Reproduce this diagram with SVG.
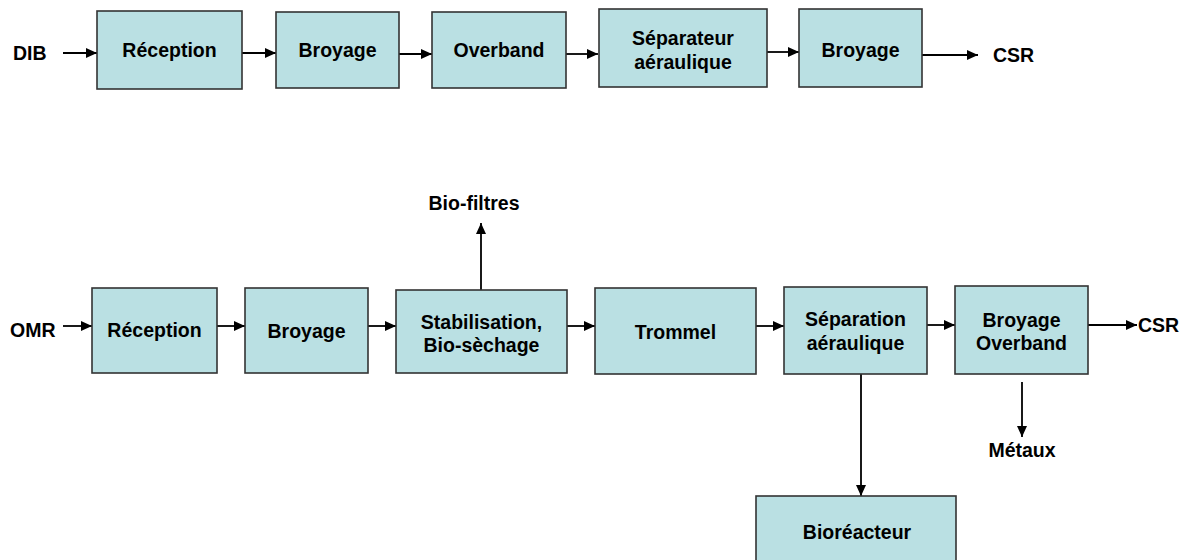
<svg xmlns="http://www.w3.org/2000/svg" width="1188" height="560" viewBox="0 0 1188 560">
<style>
.box{fill:#BAE0E3;stroke:#333;stroke-width:1.6}
.t{font-family:"Liberation Sans",Arial,sans-serif;font-weight:bold;font-size:19.5px;fill:#000;text-anchor:middle}
.l{font-family:"Liberation Sans",Arial,sans-serif;font-weight:bold;font-size:19.5px;fill:#000}
.c{stroke:#000;stroke-width:1.8;fill:none;marker-end:url(#ah)}
</style>
<defs>
<marker id="ah" markerUnits="userSpaceOnUse" markerWidth="12" markerHeight="11" refX="11" refY="5" orient="auto">
<path d="M0,0 L11,5 L0,10 z" fill="#000"/>
</marker>
</defs>
<rect width="1188" height="560" fill="#fff"/>
<g id="connectors">
<line class="c" x1="63" y1="53" x2="97" y2="53"/>
<line class="c" x1="242" y1="53" x2="276" y2="53"/>
<line class="c" x1="399" y1="54" x2="432" y2="54"/>
<line class="c" x1="566" y1="54" x2="598" y2="54"/>
<line class="c" x1="767" y1="52" x2="799" y2="52"/>
<line class="c" x1="922" y1="55" x2="978" y2="55"/>
<line class="c" x1="63" y1="326" x2="92" y2="326"/>
<line class="c" x1="217" y1="326" x2="245" y2="326"/>
<line class="c" x1="368" y1="326" x2="396" y2="326"/>
<line class="c" x1="481" y1="290" x2="481" y2="223"/>
<line class="c" x1="567" y1="326" x2="595" y2="326"/>
<line class="c" x1="756" y1="326" x2="784" y2="326"/>
<line class="c" x1="927" y1="325" x2="955" y2="325"/>
<line class="c" x1="1088" y1="325" x2="1137" y2="325"/>
<line class="c" x1="861" y1="374" x2="861" y2="496"/>
<line class="c" x1="1022" y1="382" x2="1022" y2="437"/>
</g>
<g id="labels">
<text class="l" x="13" y="60">DIB</text>
<text class="l" x="993" y="62">CSR</text>
<text class="l" x="10" y="337">OMR</text>
<text class="t" x="474" y="210">Bio-filtres</text>
<text class="l" x="1138" y="332">CSR</text>
<text class="t" x="1022" y="457">Métaux</text>
</g>
<g id="n1"><rect class="box" x="97" y="11" width="145" height="78"/><text class="t" x="169.5" y="57">Réception</text></g>
<g id="n2"><rect class="box" x="276" y="12" width="123" height="76"/><text class="t" x="337.5" y="57">Broyage</text></g>
<g id="n3"><rect class="box" x="432" y="12" width="134" height="76"/><text class="t" x="499" y="57">Overband</text></g>
<g id="n4"><rect class="box" x="599" y="9" width="168" height="78"/><text class="t" x="683" y="45">Séparateur</text><text class="t" x="683" y="69">aéraulique</text></g>
<g id="n5"><rect class="box" x="799" y="9" width="123" height="78"/><text class="t" x="860.5" y="57">Broyage</text></g>
<g id="m1"><rect class="box" x="92" y="288" width="125" height="85"/><text class="t" x="154.5" y="337">Réception</text></g>
<g id="m2"><rect class="box" x="245" y="288" width="123" height="85"/><text class="t" x="306.5" y="338">Broyage</text></g>
<g id="m3"><rect class="box" x="396" y="290" width="171" height="83"/><text class="t" x="481.5" y="329">Stabilisation,</text><text class="t" x="481.5" y="352">Bio-sèchage</text></g>
<g id="m4"><rect class="box" x="595" y="288" width="161" height="86"/><text class="t" x="675.5" y="339">Trommel</text></g>
<g id="m5"><rect class="box" x="784" y="287" width="143" height="87"/><text class="t" x="855.5" y="326">Séparation</text><text class="t" x="855.5" y="350">aéraulique</text></g>
<g id="m6"><rect class="box" x="955" y="286" width="133" height="88"/><text class="t" x="1021.5" y="327">Broyage</text><text class="t" x="1021.5" y="350">Overband</text></g>
<g id="m7"><rect class="box" x="756" y="496" width="200" height="74"/><text class="t" x="857" y="539">Bioréacteur</text></g>
</svg>
